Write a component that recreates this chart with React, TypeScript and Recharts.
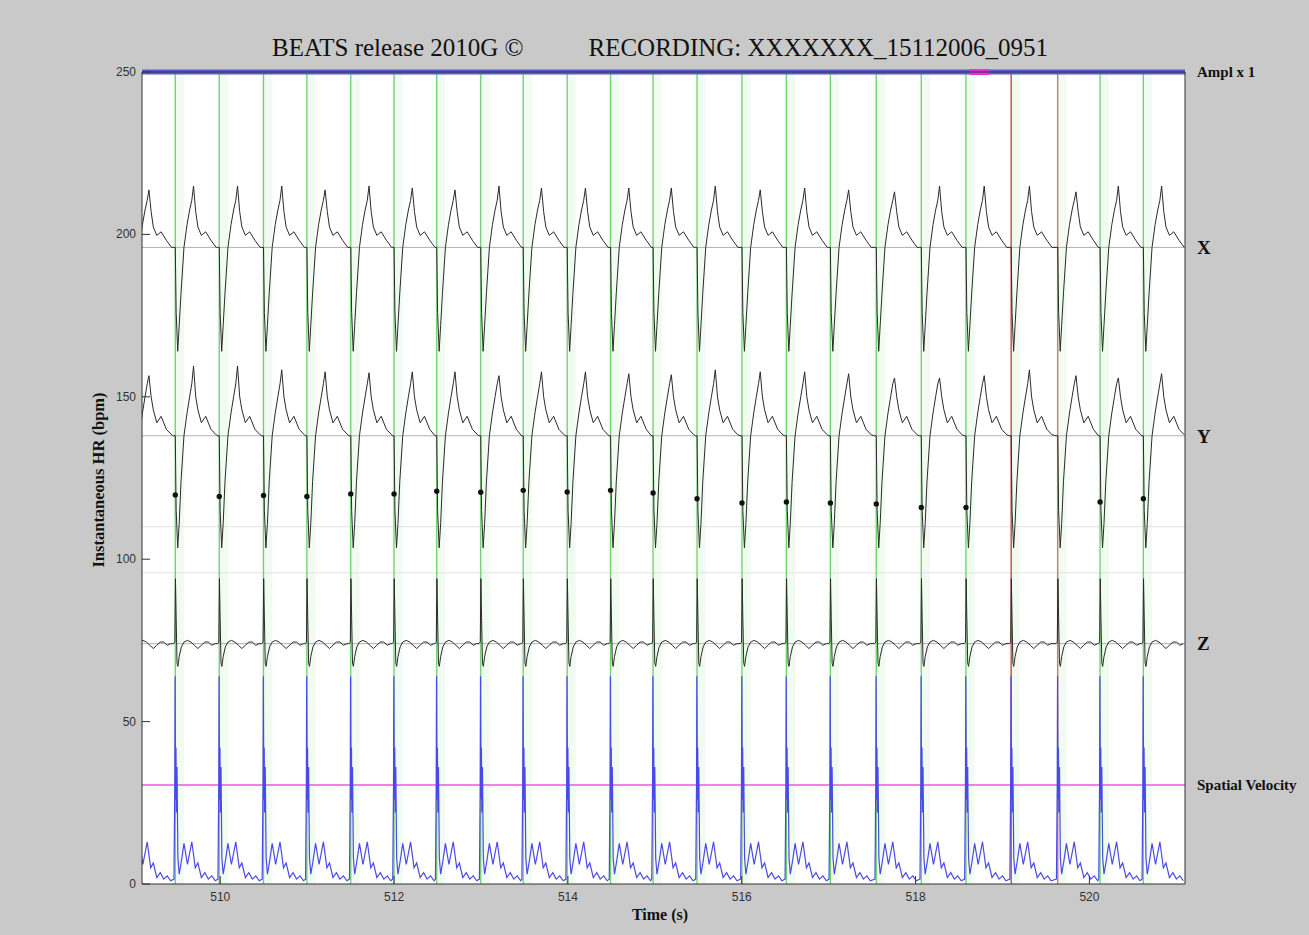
import React from "react";
import {
  ComposedChart,
  Line,
  Scatter,
  XAxis,
  YAxis,
  ReferenceLine,
  ReferenceArea,
} from "recharts";

// ---- values ----

// R-wave (beat) times in seconds
const beatTimes = [
  508.97, 509.483, 509.989, 510.498, 510.997, 511.502, 512.0, 512.491, 512.997, 513.486,
  513.992, 514.491, 514.98, 515.486, 516.003, 516.514, 517.02, 517.548, 518.066, 518.58,
  519.1, 519.636, 520.123, 520.621,
];
// instantaneous HR dot at each beat (null = no dot drawn)
const hrValues = [
  null, 119.8, 119.3, 119.6, 119.3, 120.1, 120.1, 120.9, 120.6, 121.2,
  120.7, 121.2, 120.4, 118.6, 117.3, 117.6, 117.3, 117.0, 115.9, 115.9,
  null, null, 117.6, 118.6,
];
// beats drawn with a red marker line
const redBeatTimes = [519.1, 519.636];
const redBeatColors = ["#c83a3a", "#d06a6a"];

// T-wave peak of each beat, lead X and lead Y
const xPeaks = [
  213.7, 214.9, 214.9, 214.9, 213.7, 214.9, 214.3, 213.7, 214.9, 214.3,
  214.3, 214.3, 214.3, 214.9, 213.7, 214.3, 213.7, 213.1, 214.9, 214.9,
  214.9, 213.1, 214.9, 214.9,
];
const yPeaks = [
  156.5, 159.5, 159.5, 158.3, 157.7, 157.4, 157.7, 157.7, 156.5, 157.7,
  157.7, 157.1, 156.8, 158.3, 157.7, 157.7, 157.1, 155.8, 155.8, 156.5,
  158.3, 156.5, 155.8, 157.1,
];

// beat shapes: offset from the beat (s) and value
const xTplDt = [-0.02, 0, 0.01, 0.028, 0.045, 0.066, 0.1, 0.135, 0.165, 0.19, 0.21, 0.235, 0.26, 0.3, 0.35, 0.41, 0.47];
const xTplVal = [196, 196, 176, 164, 172, 182, 196, 203, 207.5, 210.5, 214.5, 207, 202.3, 199.7, 200.8, 198.2, 196];
const yTplDt = xTplDt;
const yTplVal = [138, 138, 115, 103.5, 111, 124, 138, 145, 150, 154, 159, 150, 146, 142, 144, 140, 138.3];
const PEAK_INDEX = 10;

const zTplDt = [-0.02, -0.005, 0.002, 0.01, 0.02, 0.03, 0.045, 0.07, 0.1, 0.14, 0.18, 0.22, 0.26, 0.3, 0.34, 0.38, 0.42, 0.46];
const zTplVal = [74, 74.5, 94, 82, 68, 67, 70, 73, 74.5, 75, 74.5, 73.5, 72.5, 73.5, 74.5, 74.5, 73.5, 74];

const velTplDt = [-0.015, -0.006, -0.002, 0.003, 0.008, 0.013, 0.02, 0.03, 0.045, 0.07, 0.1, 0.14, 0.19, 0.23, 0.26, 0.3, 0.34, 0.38, 0.42, 0.46];
const velTplVal = [1.5, 30, 64, 26, 42, 22, 36, 8, 3, 7, 12.5, 6, 13, 5, 6.5, 2, 3.5, 1.5, 2.5, 1];

const xBaseline = 196;
const yBaseline = 138;
const zBaseline = 74;
const velThreshold = 30.5;
const hrBands = [110, 95.8];
const markerSpan = [518.62, 518.85];

const xTicks = [510, 512, 514, 516, 518, 520];
const yTicks = [0, 50, 100, 150, 200, 250];
const T_MIN = 509.1;
const T_MAX = 521.1;

// ---- layout ----
const W = 1309;
const H = 935;
const PL = 142;
const PR = 1185;
const PT = 72;
const PB = 884;

const SERIF = "'Liberation Serif', 'DejaVu Serif', serif";
const SANS = "'Liberation Sans', Arial, sans-serif";

function buildTrace(dts: number[], vals: number[], peaks?: number[]) {
  const out: { t: number; v: number }[] = [];
  beatTimes.forEach((b, i) => {
    const next = i + 1 < beatTimes.length ? beatTimes[i + 1] : T_MAX + 1;
    dts.forEach((dt, k) => {
      if (dt > next - b - 0.021) return;
      const v = peaks && k === PEAK_INDEX ? peaks[i] : vals[k];
      out.push({ t: +(b + dt).toFixed(4), v });
    });
  });
  return out;
}

const xTrace = buildTrace(xTplDt, xTplVal, xPeaks);
const yTrace = buildTrace(yTplDt, yTplVal, yPeaks);
const zTrace = buildTrace(zTplDt, zTplVal);
const velTrace = buildTrace(velTplDt, velTplVal);

const greenBeatLines = beatTimes
  .filter((b) => b > T_MIN && !redBeatTimes.includes(b))
  .flatMap((b) => [
    { t: b, v: 0 },
    { t: b, v: 250 },
    { t: b, v: null },
  ]);

const hrDots = beatTimes
  .map((b, i) => ({ t: b, v: hrValues[i] }))
  .filter((d) => d.v !== null);

const leftTick = (p: any) => (
  <g>
    <line x1={PL} x2={PL + 8} y1={p.y} y2={p.y} stroke="#333" />
    <text x={PL - 6} y={p.y} textAnchor="end" dominantBaseline="central" fontSize={12} fontFamily={SANS} fill="#333">
      {p.payload.value}
    </text>
  </g>
);
const rightTick = (p: any) => (
  <line x1={PR - 8} x2={PR} y1={p.y} y2={p.y} stroke="#333" />
);
const bottomTick = (p: any) => (
  <g>
    <line x1={p.x} x2={p.x} y1={PB} y2={PB - 8} stroke="#333" />
    <text x={p.x} y={PB + 13} textAnchor="middle" dominantBaseline="central" fontSize={12} fontFamily={SANS} fill="#333">
      {p.payload.value}
    </text>
  </g>
);
const topTick = (p: any) => (
  <line x1={p.x} x2={p.x} y1={PT} y2={PT + 8} stroke="#333" />
);

const sideLabel = (value: string, size: number) => ({
  value,
  position: "right" as const,
  offset: 12,
  fill: "#111",
  fontSize: size,
  fontWeight: 700,
  fontFamily: SERIF,
});

export default function App() {
  return (
    <div style={{ position: "absolute", left: 0, top: 0, width: W, height: H, background: "#c9c9c9" }}>
      <div style={{ position: "absolute", left: PL, top: PT, width: PR - PL, height: PB - PT, background: "#ffffff" }} />
      <div style={{ position: "absolute", left: 0, top: 0 }}>
        <ComposedChart width={W} height={H} margin={{ top: PT - 10, right: W - PR - 10, bottom: H - PB - 30, left: PL - 40 }}>
          <XAxis
            dataKey="t"
            type="number"
            domain={[T_MIN, T_MAX]}
            ticks={xTicks}
            allowDataOverflow
            height={30}
            interval={0}
            tickLine={false}
            tick={bottomTick}
            axisLine={{ stroke: "#333" }}
          />
          <XAxis
            xAxisId="top"
            orientation="top"
            type="number"
            domain={[T_MIN, T_MAX]}
            ticks={xTicks}
            allowDataOverflow
            height={10}
            interval={0}
            tickLine={false}
            tick={topTick}
            axisLine={{ stroke: "#333" }}
          />
          <YAxis
            dataKey="v"
            type="number"
            domain={[0, 250]}
            ticks={yTicks}
            allowDataOverflow
            width={40}
            interval={0}
            tickLine={false}
            tick={leftTick}
            axisLine={{ stroke: "#333" }}
          />
          <YAxis
            yAxisId="right"
            orientation="right"
            type="number"
            domain={[0, 250]}
            ticks={yTicks}
            width={10}
            interval={0}
            tickLine={false}
            tick={rightTick}
            axisLine={{ stroke: "#333" }}
          />

          {beatTimes
            .filter((b) => b > T_MIN)
            .map((b) => (
              <ReferenceArea
                key={`band-${b}`}
                x1={b - 0.02}
                x2={b + 0.1}
                y1={0}
                y2={250}
                fill="#eaf8ea"
                fillOpacity={0.6}
                stroke="none"
              />
            ))}

          {hrBands.map((v) => (
            <ReferenceLine key={`hb-${v}`} y={v} stroke="#e2e2e2" strokeWidth={1} />
          ))}
          <ReferenceLine y={xBaseline} stroke="#b0b0b0" label={sideLabel("X", 19)} />
          <ReferenceLine y={yBaseline} stroke="#b0b0b0" label={sideLabel("Y", 19)} />
          <ReferenceLine y={zBaseline} stroke="#b0b0b0" label={sideLabel("Z", 19)} />
          <ReferenceLine y={velThreshold} stroke="#ee55ee" strokeWidth={1.5} label={sideLabel("Spatial Velocity", 15)} />

          <Line
            data={greenBeatLines}
            dataKey="v"
            stroke="#72cf72"
            strokeWidth={1.3}
            dot={false}
            isAnimationActive={false}
          />
          {redBeatTimes.map((b, i) => (
            <Line
              key={`red-${b}`}
              data={[
                { t: b, v: 0 },
                { t: b, v: 250 },
              ]}
              dataKey="v"
              stroke={redBeatColors[i]}
              strokeWidth={1.3}
              dot={false}
              isAnimationActive={false}
            />
          ))}

          <Line data={velTrace} dataKey="v" stroke="#4a4ae8" strokeWidth={1.2} dot={false} isAnimationActive={false} />
          <Line data={zTrace} dataKey="v" stroke="#2a2a2a" strokeWidth={1} dot={false} isAnimationActive={false} />
          <Line data={yTrace} dataKey="v" stroke="#2a2a2a" strokeWidth={1} dot={false} isAnimationActive={false} />
          <Line data={xTrace} dataKey="v" stroke="#2a2a2a" strokeWidth={1} dot={false} isAnimationActive={false} />

          <Scatter
            data={hrDots}
            dataKey="v"
            fill="#111"
            isAnimationActive={false}
            shape={(p: any) => <circle cx={p.cx} cy={p.cy} r={2.7} fill="#111" />}
          />

          <ReferenceLine y={250} stroke="#5a5ad6" strokeWidth={5} label={sideLabel("Ampl x 1", 15)} />
          <ReferenceLine
            segment={[
              { x: markerSpan[0], y: 250 },
              { x: markerSpan[1], y: 250 },
            ]}
            stroke="#e030e0"
            strokeWidth={6}
          />
        </ComposedChart>
      </div>
      <svg width={W} height={H} style={{ position: "absolute", left: 0, top: 0, pointerEvents: "none" }}>
        <text x={272} y={56} fontSize={25} fontFamily={SERIF} fill="#111">
          BEATS release 2010G ©
        </text>
        <text x={1048} y={56} fontSize={25} fontFamily={SERIF} fill="#111" textAnchor="end">
          RECORDING: XXXXXXX_15112006_0951
        </text>
        <text x={660} y={920} fontSize={16} fontWeight={700} fontFamily={SERIF} fill="#111" textAnchor="middle">
          Time (s)
        </text>
        <text
          x={0}
          y={0}
          transform="translate(104 480) rotate(-90)"
          fontSize={16.5}
          fontWeight={700}
          fontFamily={SERIF}
          fill="#111"
          textAnchor="middle"
        >
          Instantaneous HR (bpm)
        </text>
      </svg>
    </div>
  );
}
